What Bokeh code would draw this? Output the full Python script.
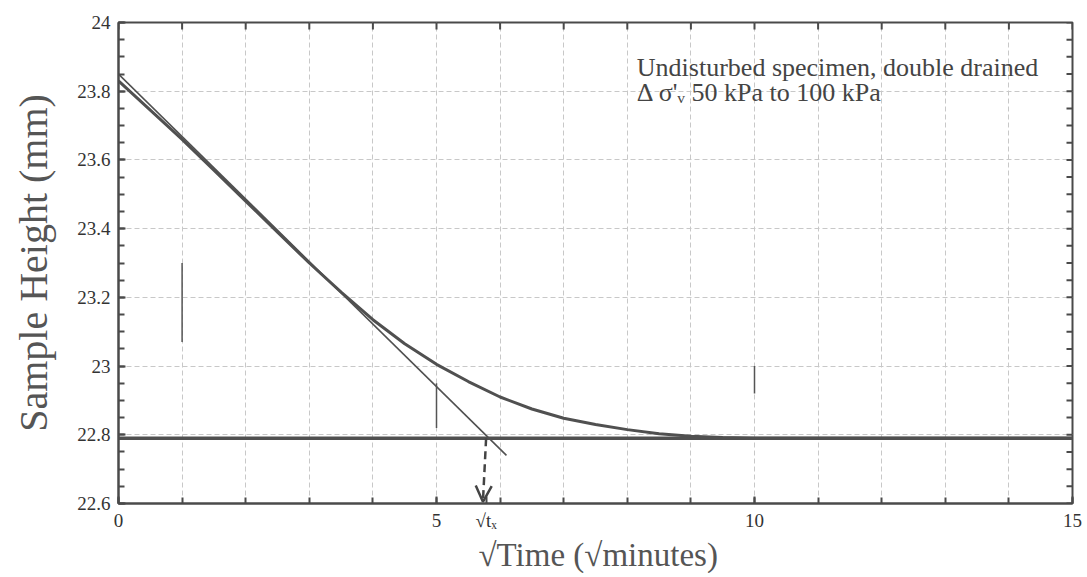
import math
from bokeh.plotting import figure
from bokeh.embed import file_html
from bokeh.resources import INLINE
from bokeh.models import FixedTicker, Label, Arrow, OpenHead, Range1d, Title

# ---- data ----
sqrt_time = [0, 0.5, 1, 1.5, 2, 2.5, 3, 3.5, 4, 4.5, 5, 5.5, 6, 6.5, 7, 7.5, 8, 8.5, 9, 9.5, 10, 11, 12, 13, 14, 15]
height = [23.83, 23.745, 23.66, 23.57, 23.48, 23.39, 23.30, 23.215, 23.135, 23.065, 23.005, 22.955, 22.91, 22.875,
          22.848, 22.83, 22.815, 22.803, 22.796, 22.792, 22.79, 22.79, 22.79, 22.79, 22.79, 22.79]
tangent_x = [0, 6.1]
tangent_y = [23.85, 22.74]
final_height = 22.79
t_x = 5.78

x_ticks = [0, 5, 10, 15, t_x]
x_tick_labels = ["0", "5", "10", "15", "√tₓ"]
x_minor = list(range(0, 16))
y_ticks = [22.6, 22.8, 23.0, 23.2, 23.4, 23.6, 23.8, 24.0]
y_tick_labels = ["22.6", "22.8", "23", "23.2", "23.4", "23.6", "23.8", "24"]
y_minor = [round(22.6 + 0.05 * i, 2) for i in range(29)]

# dark scan marks on some grid lines
mark_x = [1, 5, 10]
mark_y0 = [23.07, 22.82, 22.92]
mark_y1 = [23.30, 22.95, 23.00]

X0, X1, Y0, Y1 = 0, 15, 22.6, 24.0
FONT = "Liberation Serif"
INK = "#4a4a4a"

p = figure(frame_width=954, frame_height=481, output_backend="svg", toolbar_location=None,
           x_range=Range1d(X0, X1), y_range=Range1d(Y0, Y1),
           min_border_left=118, min_border_top=22, min_border_right=14, min_border_bottom=20,
           background_fill_color="white", border_fill_color="white")
p.outline_line_color = INK
p.outline_line_width = 2

# grids
p.xgrid.ticker = FixedTicker(ticks=list(range(1, 15)))
p.ygrid.ticker = FixedTicker(ticks=[22.8, 23.0, 23.2, 23.4, 23.6, 23.8])
for g in (p.xgrid, p.ygrid):
    g.grid_line_color = "#c8c8c8"
    g.grid_line_dash = "5 3"
    g.grid_line_width = 1

# axes
xa = p.xaxis[0]
xa.ticker = FixedTicker(ticks=x_ticks, minor_ticks=x_minor)
xa.major_label_overrides = {t: l for t, l in zip(x_ticks, x_tick_labels)}
ya = p.yaxis[0]
ya.ticker = FixedTicker(ticks=y_ticks, minor_ticks=y_minor)
ya.major_label_overrides = {t: l for t, l in zip(y_ticks, y_tick_labels)}
ya.axis_label = "Sample Height (mm)"
ya.axis_label_standoff = 18

for ax in (xa, ya):
    ax.axis_line_color = INK
    ax.axis_line_width = 2
    ax.major_tick_line_color = INK
    ax.minor_tick_line_color = INK
    ax.major_tick_line_width = 2
    ax.minor_tick_line_width = 2
    ax.major_tick_in = 7
    ax.major_tick_out = 0
    ax.minor_tick_in = 6
    ax.minor_tick_out = 0
    ax.major_label_text_font = FONT
    ax.major_label_text_color = "#333333"
    ax.major_label_text_font_size = "19px"
    ax.axis_label_text_font = FONT
    ax.axis_label_text_font_style = "normal"
    ax.axis_label_text_color = "#555555"
ya.axis_label_text_font_size = "40px"
xa.major_label_standoff = 6
ya.major_label_standoff = 8

# inward ticks on the top and right frame edges
p.scatter(x=x_minor, y=[Y1] * len(x_minor), marker="dash", angle=math.pi / 2, size=14,
          line_color=INK, line_width=2)
p.scatter(x=[X1] * len(y_minor), y=y_minor, marker="dash", size=12, line_color=INK, line_width=2)

# data
p.line([X0, X1], [final_height, final_height], line_color="#505050", line_width=3.5)
p.line(tangent_x, tangent_y, line_color="#505050", line_width=1.6)
p.line(sqrt_time, height, line_color="#505050", line_width=3)
p.segment(x0=mark_x, y0=mark_y0, x1=mark_x, y1=mark_y1, line_color="#555555", line_width=1.5)

# construction arrow
p.add_layout(Arrow(x_start=t_x, y_start=final_height, x_end=t_x - 0.05, y_end=Y0 + 0.005,
                   line_color="#444444", line_width=2.5, line_dash="8 5",
                   end=OpenHead(size=16, line_color="#444444", line_width=2.5)))

# annotations
p.add_layout(Label(x=8.15, y=23.87, text="Undisturbed specimen, double drained",
                   text_baseline="middle", text_font=FONT, text_font_size="26px", text_color="#444444"))
p.add_layout(Label(x=8.15, y=23.795, text="Δ σ'ᵥ 50 kPa to 100 kPa",
                   text_baseline="middle", text_font=FONT, text_font_size="26px", text_color="#444444"))

p.add_layout(Title(text="√Time (√minutes)", align="left", offset=360, standoff=2,
                   text_font=FONT, text_font_size="33px", text_font_style="normal",
                   text_color="#555555"), "below")

open("out.html", "w").write(file_html(p, INLINE))
